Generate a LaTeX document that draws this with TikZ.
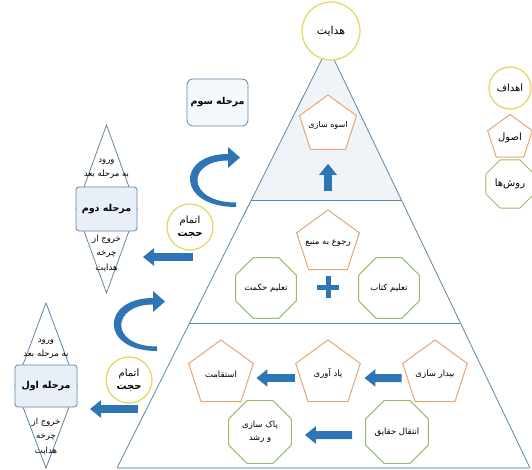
\documentclass[tikz,border=0pt]{standalone}
\usepackage{fontspec}
\newfontfamily\fa[Script=Arabic]{DejaVu Sans}
\TeXXeTstate=1
\definecolor{pyrblue}{RGB}{95,135,165}
\definecolor{arrblue}{RGB}{46,117,182}
\definecolor{goalyel}{RGB}{232,212,90}
\definecolor{prinorg}{RGB}{232,165,115}
\definecolor{methgrn}{RGB}{150,190,110}
\definecolor{boxfill}{RGB}{232,239,246}
\definecolor{topfill}{RGB}{240,244,249}
\usetikzlibrary{arrows.meta,positioning,shapes.geometric,calc}
\newcommand{\fatxt}[1]{\fa\beginR #1\endR}

\begin{document}
\begin{tikzpicture}[x=1pt,y=-1pt,
  goal/.style={circle,draw=goalyel,fill=white,line width=1.2pt,inner sep=0pt,align=center,font=\fontsize{10}{13}\selectfont},
  principle/.style={regular polygon,regular polygon sides=5,draw=prinorg,fill=white,line width=1pt,inner sep=-6pt,align=center,font=\fontsize{8.5}{13}\selectfont},
  method/.style={regular polygon,regular polygon sides=8,draw=methgrn,fill=white,line width=1pt,inner sep=-6pt,align=center,font=\fontsize{8.5}{13}\selectfont},
  stagebox/.style={rectangle,rounded corners=3pt,draw=pyrblue,fill=boxfill,line width=0.8pt,inner sep=0pt,font=\fontsize{9.5}{11}\selectfont\bfseries},
  tinytext/.style={inner sep=0pt,align=center,font=\fontsize{8.5}{14.5}\selectfont},
  fatarrow/.style={arrblue,line width=8pt,-{Triangle[length=11pt,width=17pt]}},
  pyrline/.style={pyrblue,line width=0.8pt}]
  \useasboundingbox (0,0) rectangle (532,470);
  \coordinate (apex) at (328,47);
  \coordinate (bl) at (117,468);
  \coordinate (br) at (530,468);
  \coordinate (l1) at ($(apex)!0.3634!(bl)$);
  \coordinate (r1) at ($(apex)!0.3634!(br)$);
  \coordinate (l2) at ($(apex)!0.6556!(bl)$);
  \coordinate (r2) at ($(apex)!0.6556!(br)$);
  \fill[topfill] (apex) -- (l1) -- (r1) -- cycle;
  \draw[pyrline] (bl) -- (apex) -- (br);
  \draw[pyrline] (l1) -- (r1) (l2) -- (r2);
  \draw[pyrblue!45,line width=2pt] (bl) -- (br);

  \node[goal,minimum size=58pt,font=\fontsize{11}{13}\selectfont] (hedayat) at (331,31) {\fatxt{هدایت}};
  \node[principle,minimum size=60pt,font=\fontsize{8}{13}\selectfont] (osve) at (328,125) {\fatxt{اسوه سازی}};
  \coordinate (upfoot) at (328,191);
  \draw[fatarrow,shorten >=14pt] (upfoot) -- (osve);

  \node[principle,minimum size=66pt] (roju) at (328,243) {\fatxt{رجوع به منبع}};
  \node[method,minimum size=66pt] (hekmat) at (266,288) {\fatxt{تعلیم حکمت}};
  \node[method,minimum size=66pt] (ketab) at (389,288) {\fatxt{تعلیم کتاب}};
  \coordinate (plus) at (328,287);
  \draw[arrblue,line width=5pt] ([xshift=-11pt]plus) -- ([xshift=11pt]plus) ([yshift=-11pt]plus) -- ([yshift=11pt]plus);

  \node[principle,minimum size=68pt] (bidar) at (435,374) {\fatxt{بیدار سازی}};
  \node[principle,minimum size=68pt] (yad) at (328,374) {\fatxt{یاد آوری}};
  \node[principle,minimum size=68pt] (esteqamat) at (221,374) {\fatxt{استقامت}};
  \node[method,minimum size=68pt] (enteqal) at (397,432) {\fatxt{انتقال حقایق}};
  \node[method,minimum size=68pt] (pak) at (260,432) {\fatxt{پاک سازی}\\\fatxt{و رشد}};
  \draw[fatarrow,shorten <=4pt,shorten >=7pt] ([yshift=-4pt]bidar.west) -- ([yshift=-4pt]yad.east);
  \draw[fatarrow,shorten <=4pt,shorten >=6pt] ([yshift=-4pt]yad.west) -- ([yshift=-4pt]esteqamat.east);
  \draw[fatarrow,shorten <=13pt,shorten >=13pt] ([yshift=-3pt]enteqal.west) -- ([yshift=-3pt]pak.east);

  \node[goal,minimum size=42pt] (ahdaf) at (510,88) {\fatxt{اهداف}};
  \node[principle,minimum size=47pt,font=\fontsize{10}{13}\selectfont] (osul) at (510,138) {\fatxt{اصول}};
  \node[method,minimum size=52pt,font=\fontsize{10}{13}\selectfont] (ravesh) at (510,184) {\fatxt{روش‌ها}};

  \node[stagebox,minimum width=61pt,minimum height=47pt,rounded corners=6pt,fill=boxfill!40] (stage3) at (217.5,102.5) {\fatxt{مرحله سوم}};

  \coordinate (top2) at (106.5,125);
  \coordinate (bot2) at (106.5,293);
  \draw[pyrline,fill=white] (76,209) -- (top2) -- (137,209) -- cycle;
  \draw[pyrline,fill=white] (76,209) -- (bot2) -- (137,209) -- cycle;
  \node[stagebox,minimum width=61pt,minimum height=44pt] (stage2) at (106.5,209) {\fatxt{مرحله دوم}};
  \node[tinytext] (in2) at (106.5,169) {\fatxt{ورود}\\\fatxt{به مرحله بعد}};
  \node[tinytext] (out2) at (106.5,253) {\fatxt{خروج از}\\\fatxt{چرخه}\\\fatxt{هدایت}};

  \coordinate (top1) at (46,303);
  \coordinate (bot1) at (46,468);
  \draw[pyrline,fill=white] (15,386) -- (top1) -- (77,386) -- cycle;
  \draw[pyrline,fill=white] (15,386) -- (bot1) -- (77,386) -- cycle;
  \node[stagebox,minimum width=62pt,minimum height=42pt] (stage1) at (46,386) {\fatxt{مرحله اول}};
  \node[tinytext] (in1) at (46,349) {\fatxt{ورود}\\\fatxt{به مرحله بعد}};
  \node[tinytext] (out1) at (46,436) {\fatxt{خروج از}\\\fatxt{چرخه}\\\fatxt{هدایت}};

  \node[goal,minimum size=46pt] (etmam2) at (190,227) {\fatxt{اتمام}\\\bfseries\fatxt{حجت}};
  \node[goal,minimum size=46pt] (etmam1) at (129,380) {\fatxt{اتمام}\\\bfseries\fatxt{حجت}};
  \coordinate (from2) at (193,257);
  \coordinate (to2) at (143,257);
  \draw[fatarrow] (from2) -- (to2);
  \coordinate (from1) at (138,409);
  \coordinate (to1) at (90,409);
  \draw[fatarrow] (from1) -- (to1);

  \fill[arrblue,shift={(240,157)}] (-4,50) .. controls (-64,50) and (-64,-3) .. (-12,-3) -- (-12,-10) -- (0,0.5) -- (-12,11) -- (-12,3.5) .. controls (-54,3.5) and (-54,45.5) .. (-4,45.5) -- cycle;
  \fill[arrblue,shift={(165,301)}] (-8,50) .. controls (-66,50) and (-64,-3) .. (-12,-3) -- (-12,-10) -- (0,0.5) -- (-12,11) -- (-12,3.5) .. controls (-54,3.5) and (-56,45.5) .. (-8,45.5) -- cycle;
\end{tikzpicture}
\end{document}
